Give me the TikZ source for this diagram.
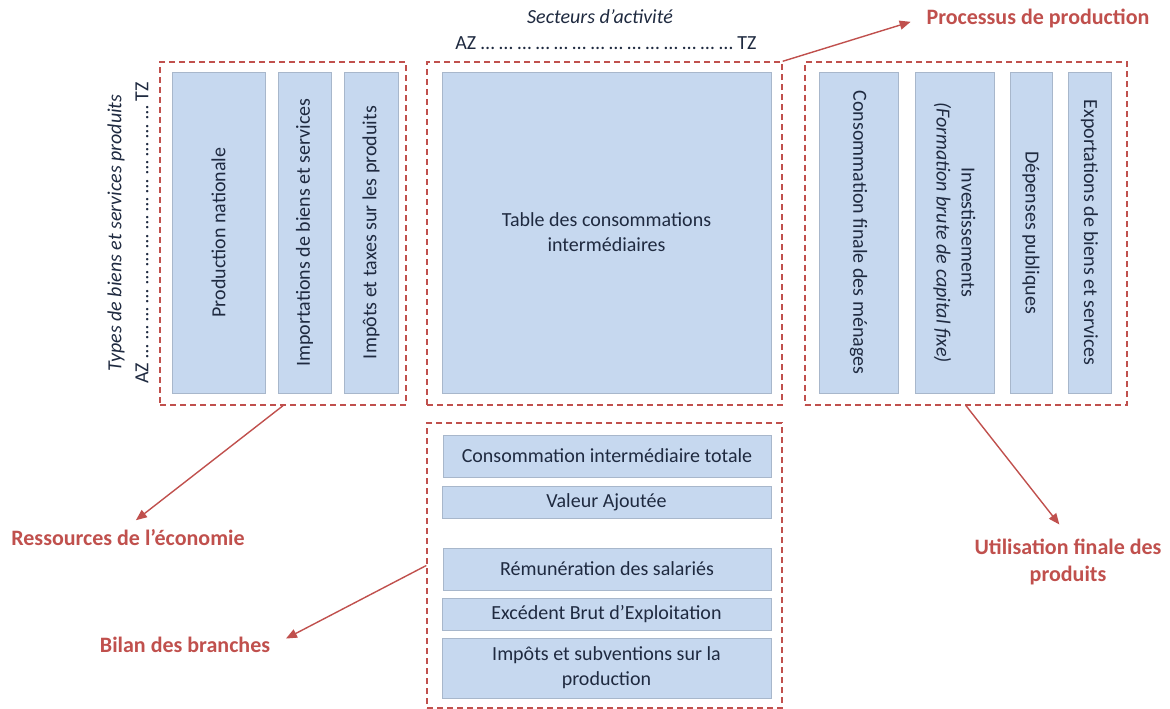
\documentclass[tikz,border=0pt]{standalone}
\usepackage{fontspec}
\setmainfont{Carlito}
\usetikzlibrary{arrows.meta, positioning}
\definecolor{cellfill}{HTML}{C6D8EF}
\definecolor{cellline}{HTML}{A8B7CB}
\definecolor{ink}{HTML}{1F2A40}
\definecolor{tomred}{HTML}{C0504D}
\tikzset{
  cell/.style={draw=cellline, fill=cellfill, text=ink, align=center, inner sep=2pt,
    line width=0.8pt, font=\fontsize{20}{25}\selectfont},
  frame/.style={draw=tomred, line width=1.4pt, dash pattern=on 6pt off 4pt},
  callout/.style={text=tomred, align=center, font=\fontsize{22}{27}\selectfont\bfseries},
  pointer/.style={draw=tomred, line width=1.4pt, -{Triangle[length=11pt, width=9pt]}},
  axis/.style={text=ink, inner sep=2pt, font=\fontsize{20}{25}\selectfont}
}

\begin{document}
\begin{tikzpicture}[x=1pt, y=-1pt]
  \useasboundingbox (0,0) rectangle (1170,709);
  % dashed frames
  \node[frame, minimum width=246pt, minimum height=343pt] (fres) at (283,233.5) {};
  \node[frame, minimum width=355pt, minimum height=343pt] (fproc) at (604.5,233.5) {};
  \node[frame, minimum width=322pt, minimum height=343pt] (futil) at (966,233.5) {};
  \node[frame, minimum width=355pt, minimum height=285pt] (fbil) at (604.5,565.5) {};
  % axes
  \node[axis, font=\fontsize{20}{25}\selectfont\itshape] (secteurs) at (600,17) {Secteurs d’activité};
  \node[axis] (azcol) at (606,43) {AZ … … … … … … … … … … … … … … TZ};
  \node[axis, rotate=90, font=\fontsize{20}{25}\selectfont\itshape] (types) at (116,233) {Types de biens et services produits};
  \node[axis, rotate=90] (azrow) at (142,233) {AZ … … … … … … … … … … … … … … TZ};
  % ressources
  \node[cell, rotate=90, minimum width=321pt, minimum height=93pt] (prod) at (218.5,232.5) {Production nationale};
  \node[cell, rotate=90, minimum width=321pt, minimum height=53pt] (impo) at (304.5,232.5) {Importations de biens et services};
  \node[cell, rotate=90, minimum width=321pt, minimum height=54pt] (taxe) at (371,232.5) {Impôts et taxes sur les produits};
  % processus
  \node[cell, minimum width=329pt, minimum height=321pt] (tci) at (606.5,232.5) {Table des consommations\\intermédiaires};
  % emplois finals
  \node[cell, rotate=-90, minimum width=321pt, minimum height=79pt] (cfm) at (858.5,232.5) {Consommation finale des ménages};
  \node[cell, rotate=-90, minimum width=321pt, minimum height=79pt] (inv) at (954.5,232.5) {Investissements\\\textit{(Formation brute de capital fixe)}};
  \node[cell, rotate=-90, minimum width=321pt, minimum height=42pt] (dep) at (1031,232.5) {Dépenses publiques};
  \node[cell, rotate=-90, minimum width=321pt, minimum height=43pt] (expo) at (1089.5,232.5) {Exportations de biens et services};
  % bilan
  \node[cell, minimum width=328pt, minimum height=42pt] (cit) at (607,456) {Consommation intermédiaire totale};
  \node[cell, minimum width=329pt, minimum height=32pt] (va) at (606.5,502) {Valeur Ajoutée};
  \node[cell, minimum width=328pt, minimum height=42pt] (rem) at (607,569) {Rémunération des salariés};
  \node[cell, minimum width=329pt, minimum height=32pt] (ebe) at (606.5,614) {Excédent Brut d’Exploitation};
  \node[cell, minimum width=329pt, minimum height=60pt] (isp) at (606.5,668) {Impôts et subventions sur la\\production};
  % callouts
  \node[callout] (lproc) at (1038,18) {Processus de production};
  \node[callout] (lres) at (128,538) {Ressources de l’économie};
  \node[callout] (lbil) at (185,645) {Bilan des branches};
  \node[callout] (lutil) at (1068,562) {Utilisation finale des\\produits};
  \draw[pointer, shorten >=13pt] (fproc.north east) -- (lproc.west);
  \draw[pointer, shorten >=10pt] (fres.south) -- (lres.north);
  \draw[pointer, shorten >=14pt] (fbil.west) -- (lbil.east);
  \draw[pointer, shorten >=14pt] (futil.south) -- (lutil.north);
\end{tikzpicture}
\end{document}
